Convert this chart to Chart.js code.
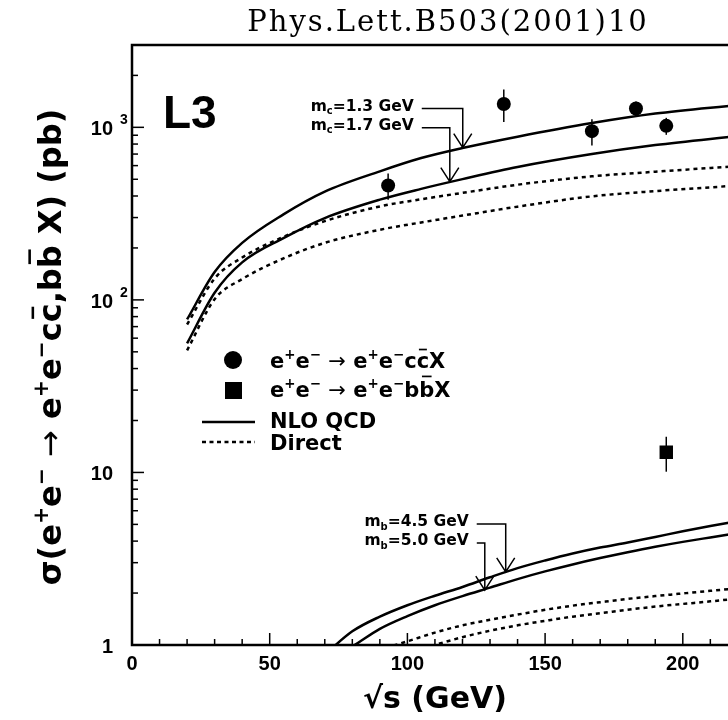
<!DOCTYPE html>
<html>
<head>
<meta charset="utf-8">
<title>Heavy quark production in two-photon collisions</title>
<script src="https://cdn.jsdelivr.net/npm/chart.js@4.4.0/dist/chart.umd.min.js"></script>
<style>
  html, body { margin: 0; padding: 0; background: #fff; overflow: hidden; }
  canvas { display: block; }
</style>
</head>
<body>
<canvas id="xsec" width="830" height="720"></canvas>
<script>
// theory curves for charm, sqrt(s) in GeV, sigma in pb
const charmX     = [20, 30, 40, 55, 70, 90, 105, 120, 140, 167, 190, 220];
const charmNlo13 = [77, 145, 214, 313, 424, 556, 664, 759, 883, 1059, 1202, 1349];
const charmNlo17 = [56, 110, 165, 228, 298, 381, 440, 501, 589, 700, 789, 891];
const charmDir13 = [72, 133, 176, 232, 286, 348, 383, 417, 465, 520, 553, 596];
const charmDir17 = [51, 101, 132, 174, 214, 255, 281, 308, 347, 398, 427, 460];

// theory curves for bottom
const bottomX     = [70, 80, 90, 100, 110, 120, 130, 140, 150, 160, 170, 180, 190, 200, 210, 220];
const bottomNlo45 = [0.88, 1.2, 1.46, 1.70, 1.93, 2.17, 2.47, 2.79, 3.09, 3.39, 3.67, 3.93, 4.23, 4.56, 4.89, 5.22];
const bottomNlo50 = [0.8, 0.98, 1.24, 1.47, 1.70, 1.92, 2.15, 2.41, 2.67, 2.93, 3.19, 3.45, 3.71, 3.96, 4.20, 4.45];
const bottomDir45 = [0.75, 0.84, 0.94, 1.05, 1.18, 1.30, 1.40, 1.50, 1.60, 1.69, 1.77, 1.85, 1.92, 1.99, 2.06, 2.13];
const bottomDir50 = [0.62, 0.71, 0.80, 0.89, 1.0, 1.11, 1.21, 1.30, 1.38, 1.46, 1.53, 1.60, 1.67, 1.73, 1.79, 1.86];

// measurements
const ccbarX   = [93, 135, 167, 183, 194];
const ccbarY   = [460, 1365, 950, 1285, 1020];
const ccbarErr = [80, 290, 165, 125, 115];
const bbbarX   = [194];
const bbbarY   = [13.1];
const bbbarErr = [3.0];

// axes
const xMajorTicks = [0, 50, 100, 150, 200, 250];
const xTickLabels = ['0', '50', '100', '150', '200', '250'];
const yMajorTicks = [1, 10, 100, 1000];
const yTickLabels = ['1', '10', '10', '10'];
const yTickPowers = ['', '', '2', '3'];

const SANS = '"Liberation Sans", Arial, Helvetica, sans-serif';
const WIDE = '"DejaVu Sans", Verdana, sans-serif';

const pts = (xs, ys) => xs.map((x, i) => ({ x: x, y: ys[i] }));

function curve(xs, ys, dashed) {
  return {
    data: pts(xs, ys),
    showLine: true,
    borderColor: '#000',
    borderWidth: 2.5,
    borderDash: dashed ? [4, 4] : [],
    pointRadius: 0,
    cubicInterpolationMode: 'monotone',
    fill: false
  };
}

// draws a run of text pieces: plain, sup, sub, arrow, barx/bara (overlined letter)
function drawRich(ctx, parts, x, y, size, align) {
  const segs = parts.map(([t, k]) => {
    const s = (k === 'sup' || k === 'sub') ? size * 0.64 : size;
    const f = k === 'arrow' ? 'normal ' + size + 'px ' + WIDE : 'bold ' + s + 'px ' + WIDE;
    ctx.font = f;
    return { t: t, k: k, f: f, w: ctx.measureText(t).width };
  });
  const total = segs.reduce((a, s) => a + s.w, 0);
  let cx = align === 'center' ? x - total / 2 : align === 'right' ? x - total : x;
  ctx.textAlign = 'left';
  ctx.textBaseline = 'alphabetic';
  for (const s of segs) {
    let dy = 0;
    if (s.k === 'sup') dy = -size * 0.42;
    if (s.k === 'sub') dy = size * 0.24;
    ctx.font = s.f;
    ctx.fillText(s.t, cx, y + dy);
    if (s.k === 'barx' || s.k === 'bara') {
      const by = y - size * (s.k === 'bara' ? 1.02 : 0.92);
      ctx.fillRect(cx + s.w * 0.18, by, s.w * 0.64, size * 0.08);
    }
    cx += s.w;
  }
  return total;
}

const annotations = [
  { parts: [['m', ''], ['c', 'sub'], ['=1.3 GeV', '']], tipX: 120.1, tipY: 763, rise: 39, run: 41 },
  { parts: [['m', ''], ['c', 'sub'], ['=1.7 GeV', '']], tipX: 115.4, tipY: 484, rise: 54, run: 28 },
  { parts: [['m', ''], ['b', 'sub'], ['=4.5 GeV', '']], tipX: 135.7, tipY: 2.65, rise: 48, run: 29 },
  { parts: [['m', ''], ['b', 'sub'], ['=5.0 GeV', '']], tipX: 128.1, tipY: 2.08, rise: 47, run: 8 }
];

const errorBars = {
  id: 'errorBars',
  beforeDatasetsDraw(chart) {
    const ctx = chart.ctx, xs = chart.scales.x, ys = chart.scales.y;
    ctx.save();
    ctx.strokeStyle = '#000';
    ctx.lineWidth = 1.5;
    const bar = (x, y, e) => {
      const px = xs.getPixelForValue(x);
      ctx.beginPath();
      ctx.moveTo(px, ys.getPixelForValue(y + e));
      ctx.lineTo(px, ys.getPixelForValue(y - e));
      ctx.stroke();
    };
    ccbarX.forEach((x, i) => bar(x, ccbarY[i], ccbarErr[i]));
    bbbarX.forEach((x, i) => bar(x, bbbarY[i], bbbarErr[i]));
    ctx.restore();
  }
};

const decorations = {
  id: 'decorations',
  afterDraw(chart) {
    const ctx = chart.ctx, xs = chart.scales.x, ys = chart.scales.y;
    const { left, top, right, bottom } = chart.chartArea;
    ctx.save();
    ctx.fillStyle = '#000';
    ctx.strokeStyle = '#000';

    // frame
    ctx.lineWidth = 2.5;
    ctx.strokeRect(left, top, right - left, bottom - top);

    // x ticks, pointing inward
    ctx.lineWidth = 1.5;
    for (let v = 0; v <= 250; v += 10) {
      const px = xs.getPixelForValue(v);
      const len = v % 50 === 0 ? 12 : 6;
      ctx.beginPath();
      ctx.moveTo(px, bottom);
      ctx.lineTo(px, bottom - len);
      ctx.stroke();
    }
    ctx.font = 'bold 20px ' + SANS;
    ctx.textAlign = 'center';
    ctx.textBaseline = 'alphabetic';
    xMajorTicks.forEach((v, i) => ctx.fillText(xTickLabels[i], xs.getPixelForValue(v), 670));

    // y ticks on the log axis
    for (let d = 1; d <= 1000; d *= 10) {
      for (let m = 1; m <= 9; m++) {
        const v = m * d;
        if (v >= 3000) break;
        const py = ys.getPixelForValue(v);
        ctx.beginPath();
        ctx.moveTo(left, py);
        ctx.lineTo(left + (m === 1 ? 12 : 6), py);
        ctx.stroke();
      }
    }
    yMajorTicks.forEach((v, i) => {
      const py = ys.getPixelForValue(v);
      ctx.font = 'bold 20px ' + SANS;
      ctx.textAlign = 'right';
      ctx.fillText(yTickLabels[i], 113, py + 8);
      if (yTickPowers[i]) {
        ctx.font = 'bold 14px ' + SANS;
        ctx.textAlign = 'left';
        ctx.fillText(yTickPowers[i], 120, py - 3);
      }
    });

    // axis titles
    drawRich(ctx, [['√', ''], ['s (GeV)', '']], 435, 708, 30, 'center');
    ctx.save();
    ctx.translate(61, 347);
    ctx.rotate(-Math.PI / 2);
    drawRich(ctx, [
      ['σ(e', ''], ['+', 'sup'], ['e', ''], ['−', 'sup'], [' ', ''], ['→', 'arrow'], [' ', ''],
      ['e', ''], ['+', 'sup'], ['e', ''], ['−', 'sup'], ['c', ''], ['c', 'barx'], [',', ''],
      ['b', ''], ['b', 'bara'], [' X) (pb)', '']
    ], 0, 0, 32, 'center');
    ctx.restore();

    // experiment tag
    ctx.font = 'bold 46px ' + SANS;
    ctx.textAlign = 'left';
    ctx.fillText('L3', 163, 128);

    // journal reference
    ctx.font = '29px "DejaVu Serif", serif';
    ctx.letterSpacing = '2px';
    ctx.textAlign = 'center';
    ctx.fillText('Phys.Lett.B503(2001)10', 448, 31);
    ctx.letterSpacing = '0px';

    // quark mass labels with elbow arrows
    ctx.lineWidth = 1.5;
    annotations.forEach(a => {
      const tx = xs.getPixelForValue(a.tipX), ty = ys.getPixelForValue(a.tipY);
      const cy = ty - a.rise, sx = tx - a.run;
      ctx.beginPath();
      ctx.moveTo(sx, cy);
      ctx.lineTo(tx, cy);
      ctx.lineTo(tx, ty);
      ctx.moveTo(tx - 9, ty - 14);
      ctx.lineTo(tx, ty);
      ctx.lineTo(tx + 9, ty - 14);
      ctx.stroke();
      drawRich(ctx, a.parts, sx - 8, cy + 2, 15.5, 'right');
    });

    // legend
    ctx.beginPath();
    ctx.arc(233, 360, 9, 0, Math.PI * 2);
    ctx.fill();
    ctx.fillRect(225, 382, 17, 17);
    drawRich(ctx, [['e', ''], ['+', 'sup'], ['e', ''], ['−', 'sup'], [' ', ''], ['→', 'arrow'], [' ', ''],
      ['e', ''], ['+', 'sup'], ['e', ''], ['−', 'sup'], ['c', ''], ['c', 'barx'], ['X', '']], 270, 368, 21, 'left');
    drawRich(ctx, [['e', ''], ['+', 'sup'], ['e', ''], ['−', 'sup'], [' ', ''], ['→', 'arrow'], [' ', ''],
      ['e', ''], ['+', 'sup'], ['e', ''], ['−', 'sup'], ['b', ''], ['b', 'bara'], ['X', '']], 270, 397, 21, 'left');
    ctx.lineWidth = 2.5;
    ctx.beginPath();
    ctx.moveTo(202, 422);
    ctx.lineTo(255, 422);
    ctx.stroke();
    ctx.setLineDash([4, 3.5]);
    ctx.beginPath();
    ctx.moveTo(202, 442);
    ctx.lineTo(255, 442);
    ctx.stroke();
    ctx.setLineDash([]);
    drawRich(ctx, [['NLO QCD', '']], 270, 428, 21, 'left');
    drawRich(ctx, [['Direct', '']], 270, 450, 21, 'left');

    ctx.restore();
  }
};

new Chart(document.getElementById('xsec').getContext('2d'), {
  type: 'scatter',
  data: {
    datasets: [
      curve(charmX, charmNlo13, false),
      curve(charmX, charmNlo17, false),
      curve(charmX, charmDir13, true),
      curve(charmX, charmDir17, true),
      curve(bottomX, bottomNlo45, false),
      curve(bottomX, bottomNlo50, false),
      curve(bottomX, bottomDir45, true),
      curve(bottomX, bottomDir50, true),
      {
        data: pts(ccbarX, ccbarY),
        pointStyle: 'circle',
        pointRadius: 7,
        backgroundColor: '#000',
        borderWidth: 0
      },
      {
        data: pts(bbbarX, bbbarY),
        pointStyle: 'rect',
        pointRadius: 9.5,
        backgroundColor: '#000',
        borderWidth: 0
      }
    ]
  },
  options: {
    responsive: false,
    animation: false,
    layout: { padding: { left: 132, top: 45, right: 7, bottom: 75 } },
    plugins: { legend: { display: false }, tooltip: { enabled: false } },
    scales: {
      x: { type: 'linear', min: 0, max: 250, display: false },
      y: { type: 'logarithmic', min: 1, max: 3000, display: false }
    }
  },
  plugins: [errorBars, decorations]
});
</script>
</body>
</html>
